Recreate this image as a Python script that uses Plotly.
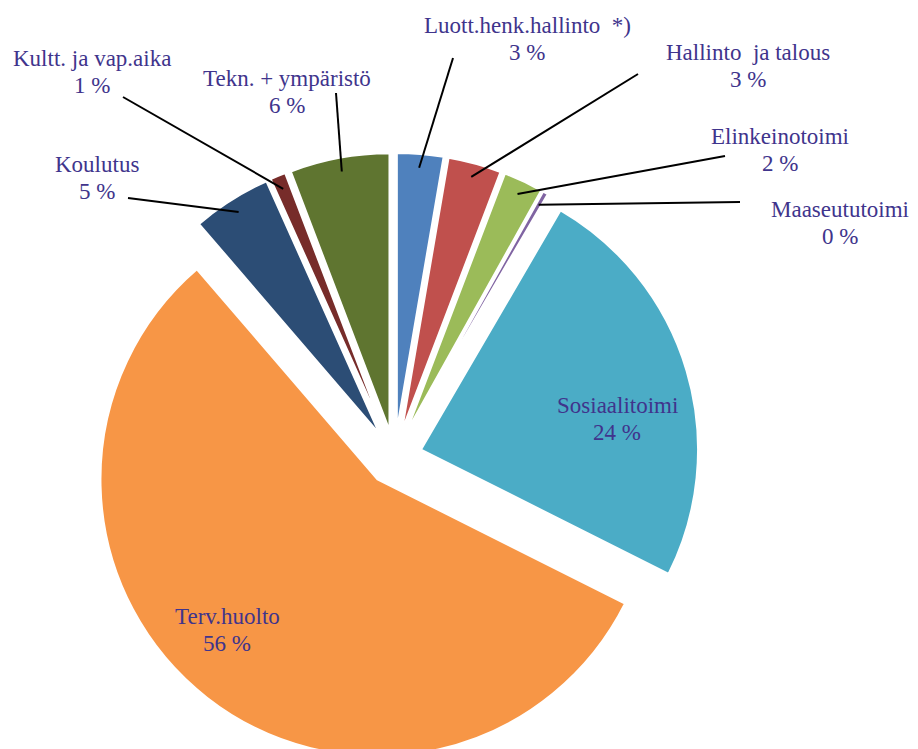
import math
import plotly.graph_objects as go

# ---- data ----
labels = ["Luott.henk.hallinto\u00a0 *)", "Hallinto\u00a0 ja talous", "Elinkeinotoimi",
          "Maaseututoimi", "Sosiaalitoimi", "Terv.huolto", "Koulutus",
          "Kultt. ja vap.aika", "Tekn. + ympäristö"]
values = [2.7, 3.1, 2.3, 0.3, 24.0, 56.3, 4.6, 0.9, 5.8]

# ---- style ----
colors = ["#4F81BD", "#C0504D", "#9BBB59", "#8064A2", "#4BACC6",
          "#F79646", "#2C4D75", "#772C2A", "#5F7530"]
explode = 0.1                              # every slice exploded by 10 %

W, H = 918, 760                            # a few px taller: pie runs off the bottom edge
OFF = 8                                    # page offset of the plot div (body margin)
CX, CY, R = 394.5 - OFF, 457.5 - OFF, 277.0  # pie centre / radius in figure px
pulls = [explode] * len(values)
TEXT_COLOR = "#40348C"
FONT = dict(family="Liberation Serif, Times New Roman, serif", size=23, color=TEXT_COLOR)
LINE_GAP = 27                              # px between label line and percent line

# label layout (screen px): text block centre, optional leader-line start
label_pos = {
    0: ((527, 39), (453, 58)),
    1: ((748, 66), (638, 74)),
    2: ((780, 150), (725, 156)),
    3: ((840, 223), (740, 202)),
    4: ((617, 419), None),
    5: ((227, 630), None),
    6: ((97, 178), (128, 198)),
    7: ((92, 72), (123, 97)),
    8: ((287, 92), (336, 93)),
}

def to_paper(x, y):
    return x / W, 1 - y / H

def screen(x, y):
    return to_paper(x - OFF, y - OFF)

maxpull = max(pulls)
half = R * (1 + maxpull)
dom_x = [(CX - half) / W, (CX + half) / W]
dom_y = [max(0.0, 1 - (CY + half) / H), min(1.0, 1 - (CY - half) / H)]

fig = go.Figure(go.Pie(
    labels=labels, values=values, sort=False, direction="clockwise", rotation=0,
    marker=dict(colors=colors, line=dict(color="white", width=2)),
    pull=pulls, textinfo="none", hoverinfo="label+percent", showlegend=False,
    domain=dict(x=dom_x, y=dom_y),
))

total = sum(values)
cum = 0.0
annotations, shapes = [], []
for i, (lab, v) in enumerate(zip(labels, values)):
    a0 = cum / total * 2 * math.pi
    cum += v
    a1 = cum / total * 2 * math.pi
    mid = (a0 + a1) / 2
    pcx = CX + pulls[i] * R * math.sin(mid)
    pcy = CY - pulls[i] * R * math.cos(mid)
    pct = f"{round(v / total * 100)} %"
    (tx, ty), tail = label_pos[i]
    for txt, yy in ((lab, ty - LINE_GAP / 2), (pct, ty + LINE_GAP / 2)):
        ax_, ay_ = screen(tx, yy)
        annotations.append(dict(
            x=ax_, y=ay_, xref="paper", yref="paper",
            text=txt, showarrow=False, font=FONT,
            xanchor="center", yanchor="middle", align="center"))
    if tail is not None:
        hx = pcx + 0.95 * R * math.sin(mid)
        hy = pcy - 0.95 * R * math.cos(mid)
        t0 = screen(*tail)
        h0 = to_paper(hx, hy)
        shapes.append(dict(type="line", xref="paper", yref="paper",
                           x0=t0[0], y0=t0[1], x1=h0[0], y1=h0[1],
                           line=dict(color="black", width=2)))

fig.update_layout(
    width=W, height=H, margin=dict(l=0, r=0, t=0, b=0),
    paper_bgcolor="white", plot_bgcolor="white",
    annotations=annotations, shapes=shapes,
)
fig.write_html("out.html")
